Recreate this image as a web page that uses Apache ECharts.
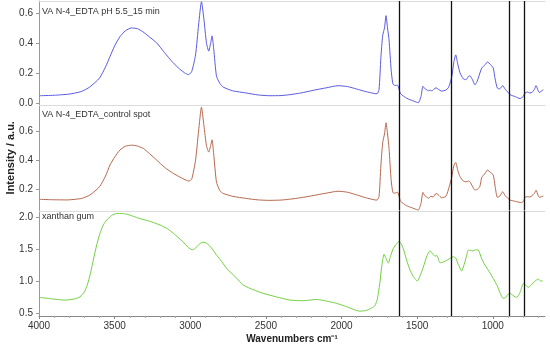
<!DOCTYPE html>
<html><head><meta charset="utf-8">
<script src="https://cdn.jsdelivr.net/npm/echarts@6/dist/echarts.min.js"></script>
<style>html,body{margin:0;padding:0;background:#fff}#c{width:550px;height:347px}</style>
</head><body><div id="c"></div>
<script>
const LABEL_TOP = 'VA N-4_EDTA pH 5.5_15 min';
const LABEL_MID = 'VA N-4_EDTA_control spot';
const LABEL_BOT = 'xanthan gum';
const X_TICKS = [4000, 3500, 3000, 2500, 2000, 1500, 1000];
const X_MINOR = [3900,3800,3700,3600,3400,3300,3200,3100,2900,2800,2700,2600,2400,2300,2200,2100,1900,1800,1700,1600,1400,1300,1200,1100,900,800,700];
const Y_TICKS_TOP = [0, 0.2, 0.4, 0.6];
const Y_TICKS_MID = [0.2, 0.4, 0.6];
const Y_TICKS_BOT = [0.5, 1.0, 1.5, 2.0];
const VLINES = [1620, 1273, 892, 795];

const TOP = [[3995,0.047],[3900,0.050],[3800,0.058],[3720,0.075],[3665,0.105],[3600,0.165],[3560,0.24],[3530,0.31],[3500,0.38],[3466,0.44],[3430,0.48],[3390,0.50],[3350,0.495],[3314,0.475],[3270,0.44],[3222,0.40],[3170,0.335],[3116,0.27],[3070,0.225],[3030,0.195],[3010,0.188],[2990,0.21],[2965,0.32],[2945,0.52],[2926,0.675],[2910,0.56],[2893,0.40],[2878,0.345],[2865,0.40],[2856,0.447],[2845,0.36],[2827,0.18],[2805,0.13],[2783,0.105],[2720,0.08],[2629,0.065],[2550,0.052],[2474,0.047],[2400,0.048],[2343,0.054],[2270,0.065],[2188,0.083],[2100,0.10],[2023,0.114],[1960,0.108],[1901,0.092],[1840,0.075],[1780,0.061],[1765,0.06],[1752,0.09],[1740,0.30],[1728,0.45],[1716,0.50],[1706,0.582],[1696,0.50],[1686,0.42],[1672,0.22],[1660,0.125],[1645,0.115],[1630,0.118],[1620,0.09],[1609,0.06],[1569,0.03],[1520,0.01],[1493,0.0],[1475,0.04],[1462,0.11],[1450,0.095],[1437,0.087],[1425,0.08],[1410,0.085],[1404,0.078],[1390,0.09],[1375,0.10],[1360,0.09],[1338,0.078],[1310,0.085],[1294,0.10],[1280,0.14],[1270,0.18],[1258,0.27],[1245,0.32],[1232,0.26],[1217,0.20],[1195,0.16],[1177,0.154],[1162,0.175],[1151,0.18],[1135,0.155],[1118,0.12],[1105,0.14],[1096,0.165],[1073,0.232],[1050,0.255],[1036,0.272],[1015,0.255],[997,0.232],[985,0.16],[970,0.098],[955,0.092],[935,0.114],[918,0.09],[900,0.07],[886,0.054],[850,0.04],[820,0.028],[800,0.04],[787,0.065],[770,0.072],[755,0.065],[740,0.07],[725,0.09],[714,0.114],[700,0.08],[693,0.069],[666,0.087]];

const MID = [[3995,0.129],[3900,0.126],[3817,0.125],[3720,0.135],[3663,0.159],[3600,0.216],[3560,0.29],[3531,0.366],[3500,0.42],[3465,0.469],[3430,0.495],[3387,0.503],[3350,0.497],[3310,0.48],[3270,0.445],[3222,0.40],[3170,0.35],[3112,0.308],[3060,0.278],[3008,0.255],[2990,0.27],[2965,0.40],[2945,0.60],[2926,0.765],[2910,0.64],[2893,0.50],[2878,0.455],[2865,0.50],[2856,0.54],[2845,0.44],[2827,0.25],[2805,0.19],[2783,0.17],[2720,0.15],[2629,0.135],[2550,0.125],[2474,0.122],[2400,0.124],[2343,0.13],[2270,0.14],[2188,0.155],[2100,0.172],[2023,0.185],[1960,0.178],[1901,0.16],[1840,0.14],[1780,0.125],[1765,0.124],[1752,0.15],[1740,0.36],[1728,0.52],[1716,0.58],[1706,0.657],[1696,0.58],[1686,0.48],[1672,0.26],[1660,0.175],[1645,0.172],[1630,0.179],[1620,0.15],[1609,0.115],[1569,0.085],[1520,0.065],[1493,0.055],[1475,0.10],[1462,0.177],[1450,0.155],[1437,0.145],[1425,0.136],[1410,0.15],[1395,0.145],[1375,0.17],[1360,0.16],[1338,0.14],[1310,0.15],[1288,0.216],[1272,0.28],[1258,0.36],[1245,0.384],[1232,0.33],[1217,0.285],[1195,0.255],[1177,0.25],[1160,0.255],[1151,0.25],[1135,0.22],[1118,0.193],[1100,0.2],[1085,0.22],[1073,0.28],[1050,0.31],[1036,0.331],[1015,0.315],[997,0.297],[985,0.22],[970,0.143],[955,0.15],[935,0.181],[918,0.155],[900,0.135],[886,0.124],[850,0.115],[809,0.106],[795,0.12],[787,0.143],[770,0.147],[755,0.145],[740,0.155],[725,0.17],[714,0.191],[700,0.155],[693,0.143],[666,0.152]];

const BOT = [[3993,0.742],[3900,0.715],[3828,0.70],[3770,0.715],[3729,0.752],[3700,0.83],[3681,0.935],[3660,1.12],[3641,1.33],[3620,1.55],[3597,1.75],[3575,1.88],[3552,1.96],[3520,2.03],[3486,2.06],[3450,2.06],[3420,2.05],[3380,2.02],[3332,1.98],[3270,1.94],[3200,1.88],[3150,1.82],[3112,1.75],[3050,1.62],[3010,1.52],[2984,1.49],[2960,1.53],[2935,1.59],[2915,1.61],[2890,1.59],[2860,1.52],[2830,1.42],[2803,1.34],[2760,1.20],[2700,1.06],[2649,0.935],[2580,0.86],[2517,0.805],[2430,0.75],[2341,0.70],[2250,0.69],[2164,0.71],[2100,0.685],[2032,0.648],[1960,0.59],[1900,0.535],[1878,0.527],[1840,0.535],[1800,0.575],[1780,0.61],[1765,0.70],[1757,0.80],[1745,1.0],[1735,1.22],[1719,1.42],[1705,1.35],[1691,1.28],[1675,1.40],[1658,1.51],[1635,1.59],[1620,1.62],[1605,1.58],[1592,1.51],[1570,1.33],[1547,1.17],[1520,1.05],[1499,1.0],[1480,1.09],[1459,1.22],[1435,1.40],[1415,1.475],[1395,1.42],[1382,1.39],[1370,1.40],[1349,1.286],[1325,1.30],[1301,1.33],[1280,1.36],[1261,1.38],[1245,1.36],[1235,1.30],[1220,1.22],[1206,1.155],[1195,1.22],[1184,1.30],[1170,1.43],[1162,1.486],[1145,1.48],[1131,1.47],[1115,1.49],[1096,1.486],[1075,1.36],[1052,1.25],[1025,1.15],[997,1.04],[970,0.92],[950,0.80],[931,0.726],[915,0.74],[900,0.79],[886,0.805],[865,0.77],[842,0.742],[820,0.82],[798,0.96],[780,0.93],[765,0.90],[745,0.94],[721,1.0],[699,1.03],[685,1.0],[670,1.0]];

const FONT = 'Liberation Sans, Arial, sans-serif';
const X_MIN = 655, X_MAX = 4000;
const chart = echarts.init(document.getElementById('c'), null, {renderer: 'canvas'});

function sepAxis(gi) {
  return {type:'value', gridIndex:gi, min:X_MIN, max:X_MAX, inverse:true, position:'top',
    axisLine:{show:true, onZero:false, lineStyle:{color:'#dcdcdc', width:1}},
    axisTick:{show:false}, axisLabel:{show:false}, splitLine:{show:false}};
}
function yAx(gi, min, max, ticks, extra) {
  return Object.assign({type:'value', gridIndex:gi, min:min, max:max,
    axisLine:{show:true, onZero:false, lineStyle:{color:'#999', width:1}},
    axisTick:{show:true, length:3, customValues:ticks, lineStyle:{color:'#999'}},
    axisLabel:{customValues:ticks, color:'#333', fontSize:10, fontFamily:FONT, margin:6,
      formatter: v => v.toFixed(1)},
    splitLine:{show:false}}, extra || {});
}
function vl() {
  return {silent:true, symbol:'none', label:{show:false}, animation:false,
    lineStyle:{color:'#111', width:1.3, type:'solid'},
    data: VLINES.map(v => ({xAxis:v}))};
}
const G = {left:39, right:5, containLabel:false, outerBoundsMode:'none'};

const option = {
  animation:false,
  backgroundColor:'#fff',
  grid:[
    Object.assign({top:1, height:104}, G),
    Object.assign({top:105, height:105.5}, G),
    Object.assign({top:211, height:105}, G)
  ],
  xAxis:[
    sepAxis(0),
    sepAxis(1),
    {type:'value', gridIndex:2, min:X_MIN, max:X_MAX, inverse:true, position:'bottom',
      axisLine:{show:true, onZero:false, lineStyle:{color:'#888', width:1}},
      axisTick:{show:true, length:3, customValues:X_TICKS, lineStyle:{color:'#888'}},
      axisLabel:{customValues:X_TICKS, color:'#333', fontSize:10, fontFamily:FONT, margin:5,
        formatter: v => String(v)},
      splitLine:{show:false},
      name:'Wavenumbers cm\u207B\u00B9', nameLocation:'middle', nameGap:18, nameMoveOverlap:false,
      nameTextStyle:{fontSize:10, fontWeight:'bold', color:'#222', fontFamily:FONT}},
    sepAxis(2),
    {type:'value', gridIndex:2, min:X_MIN, max:X_MAX, inverse:true, position:'bottom',
      axisLine:{show:false, onZero:false},
      axisTick:{show:true, length:2, customValues:X_MINOR, lineStyle:{color:'#aaa'}},
      axisLabel:{show:false}, splitLine:{show:false}}
  ],
  yAxis:[
    yAx(0, -0.015, 0.68, Y_TICKS_TOP),
    yAx(1, 0.052, 0.78, Y_TICKS_MID, {name:'Intensity / a.u.', nameLocation:'middle', nameGap:23,
      nameMoveOverlap:false,
      nameTextStyle:{fontSize:11, fontWeight:'bold', color:'#222', fontFamily:FONT}}),
    yAx(2, 0.45, 2.1, Y_TICKS_BOT)
  ],
  graphic:[
    {type:'text', left:42, top:7, style:{text:LABEL_TOP, fontSize:9, fill:'#333', fontFamily:FONT}},
    {type:'text', left:42, top:110, style:{text:LABEL_MID, fontSize:9, fill:'#333', fontFamily:FONT}},
    {type:'text', left:42, top:212, style:{text:LABEL_BOT, fontSize:9, fill:'#333', fontFamily:FONT}}
  ],
  series:[
    {type:'line', xAxisIndex:0, yAxisIndex:0, data:TOP, showSymbol:false, smooth:0.2,
      lineStyle:{color:'#5a5ae0', width:1}, markLine:vl()},
    {type:'line', xAxisIndex:1, yAxisIndex:1, data:MID, showSymbol:false, smooth:0.2,
      lineStyle:{color:'#b7684f', width:1}, markLine:vl()},
    {type:'line', xAxisIndex:2, yAxisIndex:2, data:BOT, showSymbol:false, smooth:0.2,
      lineStyle:{color:'#74d043', width:1}, markLine:vl()}
  ]
};
chart.setOption(option);
</script></body></html>
